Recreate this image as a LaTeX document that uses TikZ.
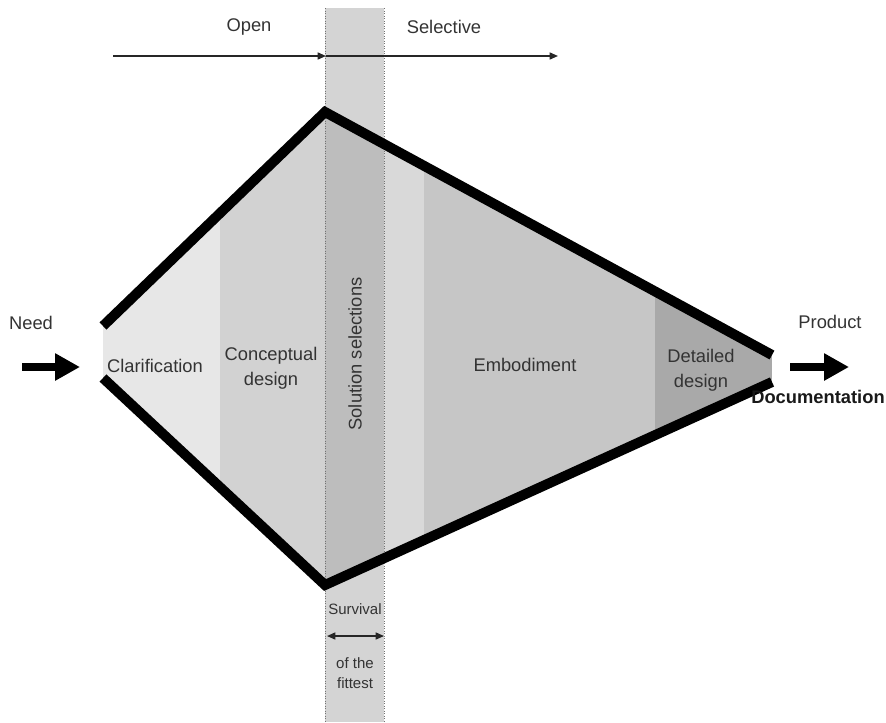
\documentclass[tikz,border=0pt]{standalone}
\usepackage{fontspec}
\setmainfont{Liberation Sans}
\definecolor{BandGray}{HTML}{D4D4D4}
\definecolor{ClarGray}{HTML}{E7E7E7}
\definecolor{ConcGray}{HTML}{D2D2D2}
\definecolor{SelGray}{HTML}{BDBDBD}
\definecolor{GapGray}{HTML}{D9D9D9}
\definecolor{EmbGray}{HTML}{C6C6C6}
\definecolor{DetGray}{HTML}{A9A9A9}
\definecolor{TextGray}{HTML}{333333}
\usetikzlibrary{arrows.meta}

\begin{document}
\begin{tikzpicture}[x=0.6pt, y=-0.6pt,
        lbl/.style={text=TextGray, font=\fontsize{11}{15}\selectfont, align=center, inner sep=0pt},
        smalllbl/.style={text=TextGray, font=\fontsize{9}{12}\selectfont, align=center, inner sep=0pt},
        edge/.style={line width=6pt, black},
        flow/.style={line width=5pt, black, -{Triangle[length=15pt, width=15.5pt]}},
        axis/.style={line width=0.9pt, black!85, -{Triangle[length=5pt, width=4.2pt]}},
        span/.style={line width=0.9pt, black!85, {Triangle[length=5pt, width=4.2pt]}-{Triangle[length=5pt, width=4.2pt]}},
        guide/.style={densely dotted, black!55, line width=0.5pt}
    ]
        \useasboundingbox (0,0) rectangle (886,722);
        \coordinate (lt) at (103,326);
        \coordinate (top) at (325,112);
        \coordinate (rt) at (772,355);
        \coordinate (rb) at (772,382);
        \coordinate (bot) at (325,585);
        \coordinate (lb) at (103,378);
        \fill[BandGray] (325,8) rectangle (384,722);
        \begin{scope}
            \clip (lt) -- (top) -- (rt) -- (rb) -- (bot) -- (lb) -- cycle;
            \fill[ClarGray] (103,0) rectangle (220,722);
            \fill[ConcGray] (220,0) rectangle (325,722);
            \fill[SelGray] (325,0) rectangle (384,722);
            \fill[GapGray] (384,0) rectangle (424,722);
            \fill[EmbGray] (424,0) rectangle (655,722);
            \fill[DetGray] (655,0) rectangle (772,722);
        \end{scope}
        \draw[guide] (325,8) -- (325,722);
        \draw[guide] (384,8) -- (384,722);
        \draw[edge] (lt) -- (top) -- (rt);
        \draw[edge] (lb) -- (bot) -- (rb);
        \coordinate (a0) at (113,56);
        \coordinate (a1) at (326,56);
        \coordinate (a2) at (558,56);
        \draw[axis] (a0) -- (a1);
        \draw[axis] (a1) -- (a2);
        \node[lbl] (open) at (249,27) {Open};
        \node[lbl] (selective) at (444,27) {Selective};
        \coordinate (in0) at (22,367);
        \coordinate (in1) at (80,367);
        \coordinate (out0) at (790,367);
        \coordinate (out1) at (849,367);
        \draw[flow] (in0) -- (in1);
        \draw[flow] (out0) -- (out1);
        \node[lbl] (need) at (31,323) {Need};
        \node[lbl] (product) at (830,322) {Product};
        \node[lbl, text=black!90, font=\fontsize{11}{15}\selectfont\bfseries] (docu) at (818,397) {Documentation};
        \node[lbl] (clar) at (155,366) {Clarification};
        \node[lbl] (concept) at (271,368) {Conceptual\\design};
        \node[lbl, rotate=90] (solsel) at (355,354) {Solution selections};
        \node[lbl] (embod) at (525,365) {Embodiment};
        \node[lbl] (detail) at (701,370) {Detailed\\design};
        \node[smalllbl] (survival) at (355,609) {Survival};
        \coordinate (s0) at (327,636);
        \coordinate (s1) at (384,636);
        \draw[span] (s0) -- (s1);
        \node[smalllbl] (fittest) at (355,673) {of the\\fittest};
    \end{tikzpicture}
\end{document}
